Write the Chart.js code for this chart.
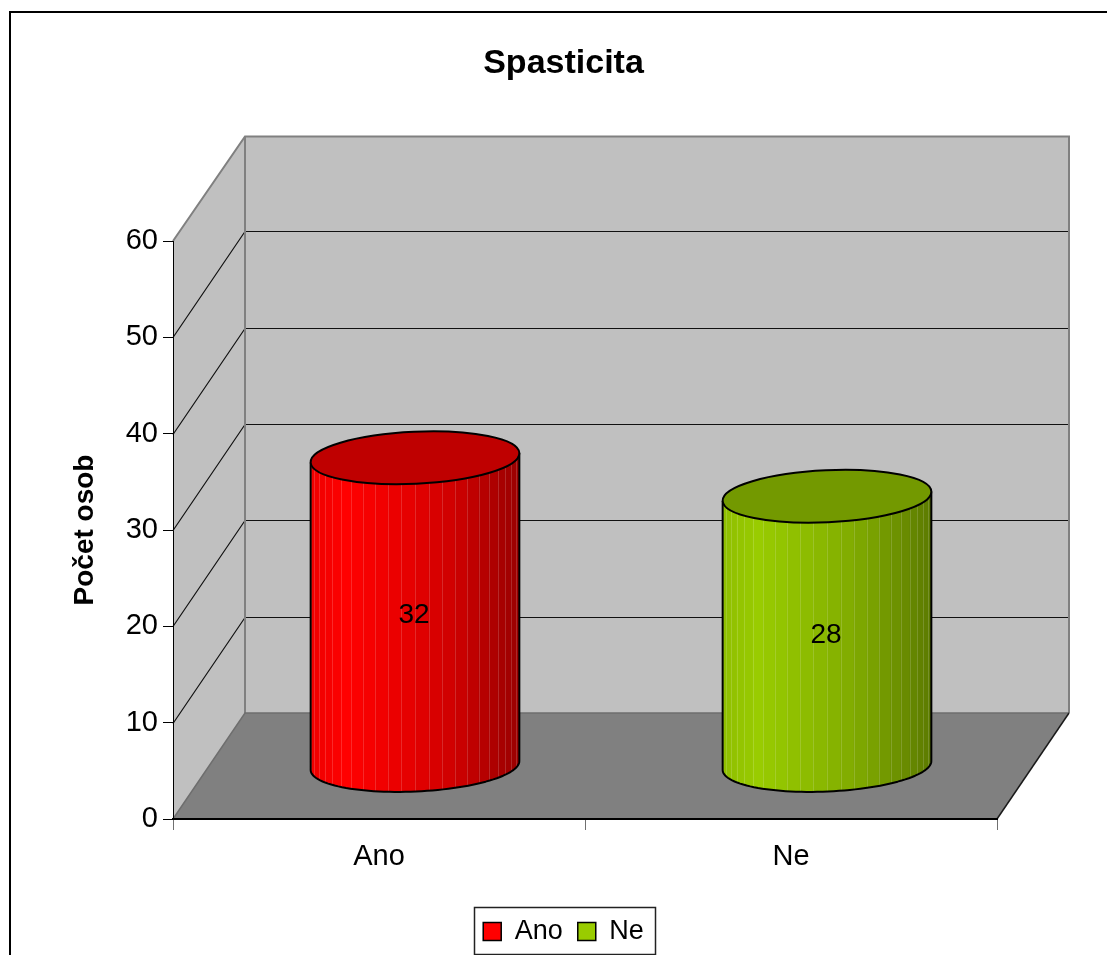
<!DOCTYPE html>
<html lang="cs">
<head>
<meta charset="utf-8">
<title>Spasticita</title>
<script src="https://cdn.jsdelivr.net/npm/chart.js@4.4.1/dist/chart.umd.min.js"></script>
<style>
  html, body { margin: 0; padding: 0; background: #fff; }
  canvas { display: block; }
</style>
</head>
<body>
<canvas id="chart" width="1107" height="955"></canvas>
<script>
// ---- data ----
const categories = ['Ano', 'Ne'];
const counts = [32, 28];
const yTickValues = [0, 10, 20, 30, 40, 50, 60];
const barColors = ['#ff0000', '#99cc00'];

// ---- drawing constants ----
const FONT = "'Liberation Sans', Arial, Helvetica, sans-serif";
const DEPTH = { x: 72, y: -106 };   // how far the back wall recedes
const END_RY = 26;                  // vertical radius of the cylinder ends
const TILT = -0.045;                // slight perspective tilt of the ends
const FACETS = 24;                  // facets across the visible half of a cylinder

function hexToRgb(h) {
  const n = parseInt(h.slice(1), 16);
  return [(n >> 16) & 255, (n >> 8) & 255, n & 255];
}
function scaled(hex, f) {
  const [r, g, b] = hexToRgb(hex);
  const c = v => Math.max(0, Math.min(255, Math.round(v * f)));
  return `rgb(${c(r)},${c(g)},${c(b)})`;
}
// brightness across the cylinder face, c = -1 (left edge) .. 1 (right edge)
const LIGHT = [[-1, 0.93], [-0.66, 1], [0, 0.89], [0.41, 0.8], [0.82, 0.66], [1, 0.6]];
function light(c) {
  for (let i = 1; i < LIGHT.length; i++) {
    if (c <= LIGHT[i][0]) {
      const [c0, f0] = LIGHT[i - 1], [c1, f1] = LIGHT[i];
      return f0 + (f1 - f0) * (c - c0) / (c1 - c0);
    }
  }
  return LIGHT[LIGHT.length - 1][1];
}
function ePt(cx, cy, rx, ry, t) {
  const c = Math.cos(TILT), s = Math.sin(TILT);
  const ex = rx * Math.cos(t), ey = ry * Math.sin(t);
  return [cx + ex * c - ey * s, cy + ex * s + ey * c];
}

function drawCylinder(ctx, cx, yTop, yBot, rx, color) {
  const N = 60;
  const body = new Path2D();
  body.moveTo(...ePt(cx, yTop, rx, END_RY, Math.PI));
  body.lineTo(...ePt(cx, yBot, rx, END_RY, Math.PI));
  for (let i = 1; i <= N; i++) body.lineTo(...ePt(cx, yBot, rx, END_RY, Math.PI - Math.PI * i / N));
  body.lineTo(...ePt(cx, yTop, rx, END_RY, 0));
  for (let i = 1; i <= N; i++) body.lineTo(...ePt(cx, yTop, rx, END_RY, Math.PI * i / N));
  body.closePath();

  ctx.save();
  ctx.clip(body);
  const y0 = yTop - END_RY - 20, h = yBot - yTop + 2 * END_RY + 40;
  for (let k = 0; k < FACETS; k++) {
    const t0 = Math.PI - Math.PI * k / FACETS, t1 = Math.PI - Math.PI * (k + 1) / FACETS;
    const x0 = cx + rx * Math.cos(t0), x1 = cx + rx * Math.cos(t1);
    ctx.fillStyle = scaled(color, light(Math.cos((t0 + t1) / 2)));
    ctx.fillRect(x0 - 0.5, y0, x1 - x0 + 1, h);
  }
  ctx.strokeStyle = 'rgba(255,255,255,0.16)';
  ctx.lineWidth = 1;
  for (let k = 1; k < FACETS; k++) {
    const xs = Math.round(cx + rx * Math.cos(Math.PI - Math.PI * k / FACETS)) + 0.5;
    ctx.beginPath(); ctx.moveTo(xs, y0); ctx.lineTo(xs, y0 + h); ctx.stroke();
  }
  ctx.restore();

  // sides and lower rim
  ctx.save();
  ctx.strokeStyle = '#000';
  ctx.lineWidth = 2;
  ctx.lineJoin = 'round';
  ctx.beginPath();
  ctx.moveTo(...ePt(cx, yTop, rx, END_RY, Math.PI));
  ctx.lineTo(...ePt(cx, yBot, rx, END_RY, Math.PI));
  for (let i = 1; i <= N; i++) ctx.lineTo(...ePt(cx, yBot, rx, END_RY, Math.PI - Math.PI * i / N));
  ctx.lineTo(...ePt(cx, yTop, rx, END_RY, 0));
  ctx.stroke();
  // top cap
  ctx.beginPath();
  ctx.ellipse(cx, yTop, rx, END_RY, TILT, 0, Math.PI * 2);
  ctx.fillStyle = scaled(color, 0.75);
  ctx.fill();
  ctx.stroke();
  ctx.restore();
}

// walls, floor and outer frame, painted before the axes
const frame3d = {
  id: 'frame3d',
  beforeDraw(chart) {
    const { ctx, chartArea: ca, scales: { y } } = chart;
    const L = ca.left, R = ca.right;
    const T = y.getPixelForValue(y.max), B = y.getPixelForValue(y.min);
    const dx = DEPTH.x, dy = DEPTH.y;
    const poly = (pts) => { ctx.beginPath(); ctx.moveTo(...pts[0]); pts.slice(1).forEach(p => ctx.lineTo(...p)); };

    ctx.save();
    ctx.fillStyle = '#fff';
    ctx.fillRect(0, 0, chart.width, chart.height);
    ctx.strokeStyle = '#000';
    ctx.lineWidth = 2;
    ctx.strokeRect(10, 12, chart.width + 20, chart.height + 20);

    ctx.fillStyle = '#c0c0c0';
    ctx.fillRect(L + dx, T + dy + 1.5, R - L, B - T - 1.5);
    poly([[L, T], [L + dx, T + dy + 1.5], [L + dx, B + dy], [L, B]]); ctx.closePath(); ctx.fill();
    ctx.fillStyle = '#808080';
    poly([[L, B], [L + dx, B + dy], [R + dx, B + dy], [R, B]]); ctx.closePath(); ctx.fill();

    ctx.strokeStyle = '#111';
    ctx.lineWidth = 1.2;
    y.ticks.forEach(t => {
      if (t.value <= y.min || t.value >= y.max) return;
      const py = Math.round(y.getPixelForValue(t.value)) + 0.5;
      poly([[L, py], [L + dx, py + dy], [R + dx, py + dy]]);
      ctx.stroke();
    });

    ctx.strokeStyle = '#808080';
    ctx.lineWidth = 2;
    poly([[L, T], [L + dx, T + dy + 1.5], [R + dx, T + dy + 1.5], [R + dx, B + dy]]); ctx.stroke();
    poly([[L + dx, T + dy + 1.5], [L + dx, B + dy]]); ctx.stroke();
    ctx.strokeStyle = '#6e6e6e';
    ctx.lineWidth = 1.5;
    poly([[L, B], [L + dx, B + dy], [R + dx, B + dy]]); ctx.stroke();
    ctx.strokeStyle = '#1a1a1a';
    poly([[R, B], [R + dx, B + dy]]); ctx.stroke();
    ctx.restore();
  }
};

// cylinders sit half way into the depth, built from the bar elements
const cylinders = {
  id: 'cylinders',
  afterDatasetsDraw(chart) {
    const ctx = chart.ctx;
    const meta = chart.getDatasetMeta(0);
    const values = chart.data.datasets[0].data;
    meta.data.forEach((bar, i) => {
      const { x, y, base, width } = bar.getProps(['x', 'y', 'base', 'width'], true);
      const cx = x + DEPTH.x / 2;
      const yTop = y + DEPTH.y / 2, yBot = base + DEPTH.y / 2;
      drawCylinder(ctx, cx, yTop, yBot, width / 2, barColors[i]);
      ctx.save();
      ctx.fillStyle = '#000';
      ctx.font = `28px ${FONT}`;
      ctx.textAlign = 'center';
      ctx.textBaseline = 'middle';
      ctx.fillText(String(values[i]), cx - 1, (yTop + yBot) / 2 + 4);
      ctx.restore();
    });
  }
};

// box around the legend entries
const legendFrame = {
  id: 'legendFrame',
  afterDraw(chart) {
    const hb = chart.legend && chart.legend.legendHitBoxes;
    if (!hb || !hb.length) return;
    const first = hb[0], last = hb[hb.length - 1];
    const cy = first.top + first.height / 2;
    const ctx = chart.ctx;
    ctx.save();
    ctx.strokeStyle = '#222';
    ctx.lineWidth = 1.5;
    ctx.strokeRect(Math.round(first.left - 9) + 0.5, Math.round(cy - 25) + 0.5,
      Math.round(last.left + last.width - first.left + 20), 47);
    ctx.restore();
  }
};

new Chart(document.getElementById('chart'), {
  type: 'bar',
  data: {
    labels: categories,
    datasets: [{
      label: 'Počet osob',
      data: counts,
      backgroundColor: 'rgba(0,0,0,0)',
      borderWidth: 0,
      categoryPercentage: 1,
      barPercentage: 0.507
    }]
  },
  options: {
    responsive: false,
    animation: false,
    devicePixelRatio: 1,
    events: [],
    layout: { padding: { left: 20, right: 0, top: 0, bottom: 0 } },
    plugins: {
      tooltip: { enabled: false },
      title: {
        display: true,
        text: 'Spasticita',
        color: '#000',
        font: { family: FONT, size: 34, weight: 'bold' },
        padding: { top: 43, bottom: 157.2 }
      },
      legend: {
        display: true,
        position: 'bottom',
        labels: {
          color: '#000',
          font: { family: FONT, size: 27 },
          boxWidth: 18,
          boxHeight: 18,
          padding: 15,
          generateLabels: (chart) => chart.data.labels.map((text, i) => ({
            text,
            fillStyle: barColors[i],
            strokeStyle: '#000',
            lineWidth: 1.5,
            hidden: false,
            index: i,
            fontColor: '#000'
          }))
        }
      }
    },
    scales: {
      x: {
        type: 'category',
        offset: true,
        grid: { display: true, drawOnChartArea: false, drawTicks: true, tickLength: 11, color: '#707070', offset: true },
        border: { display: true, color: '#000', width: 2 },
        ticks: { color: '#000', font: { family: FONT, size: 29 }, padding: 10, maxRotation: 0 },
        afterFit(s) { s.height = 84; }
      },
      y: {
        type: 'linear',
        position: 'left',
        min: 0,
        max: 60,
        afterBuildTicks(s) { s.ticks = yTickValues.map(v => ({ value: v })); },
        ticks: { color: '#000', font: { family: FONT, size: 29 }, padding: 5 },
        grid: { drawOnChartArea: false, drawTicks: true, tickLength: 10, color: '#000' },
        border: { display: true, color: '#000', width: 1 },
        title: {
          display: true,
          text: 'Počet osob',
          color: '#000',
          font: { family: FONT, size: 28, weight: 'bold' },
          padding: { top: 48, bottom: 0 }
        },
        afterFit(s) { s.width = 153; }
      },
      depthSpace: {
        type: 'linear',
        position: 'right',
        display: true,
        ticks: { display: false },
        grid: { display: false },
        border: { display: false },
        afterFit(s) { s.width = 110; }
      }
    }
  },
  plugins: [frame3d, cylinders, legendFrame]
});
</script>
</body>
</html>
